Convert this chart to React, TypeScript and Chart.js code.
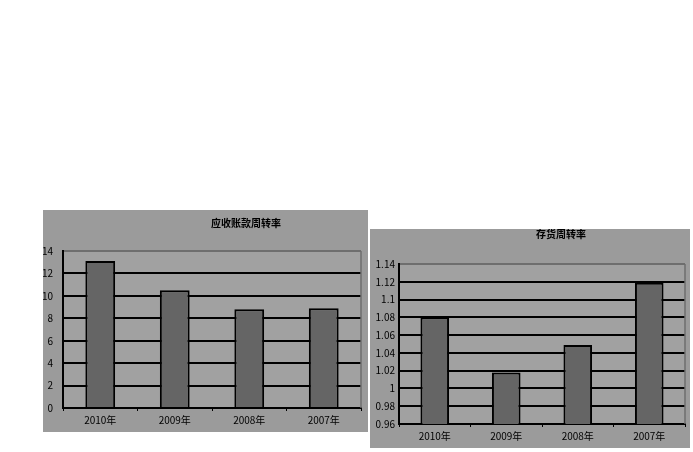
import { useRef, useEffect } from "react";
import { Chart, registerables } from "chart.js";

Chart.register(...registerables);

// 年份（与原图顺序一致，从新到旧）
const years = ["2010年", "2009年", "2008年", "2007年"];

// 应收账款周转率
const receivableTitle = "应收账款周转率";
const receivableValues = [13.1, 10.5, 8.8, 8.9];
const receivableTicks = [0, 2, 4, 6, 8, 10, 12, 14];

// 存货周转率
const inventoryTitle = "存货周转率";
const inventoryValues = [1.08, 1.018, 1.049, 1.119];
const inventoryTicks = [0.96, 0.98, 1, 1.02, 1.04, 1.06, 1.08, 1.1, 1.12, 1.14];

const PANEL_BG = "#9b9b9b";
const PLOT_BG = "#a1a1a1";
const BAR_FILL = "#656565";
const FONT = "'Noto Sans CJK SC', 'DejaVu Sans', sans-serif";

interface PanelProps {
  title: string;
  values: number[];
  ticks: number[];
  left: number;
  top: number;
  width: number;
  height: number;
  pad: { left: number; top: number; right: number; bottom: number };
  tickPad: number;
  titlePos: { x: number; y: number }; // 标题中心相对面板的位置
}

function BarPanel({ title, values, ticks, left, top, width, height, pad, tickPad, titlePos }: PanelProps) {
  const chartRef = useRef<HTMLCanvasElement>(null);

  useEffect(() => {
    if (!chartRef.current) return;
    const min = ticks[0];
    const max = ticks[ticks.length - 1];

    // 绘图区底色 + 右侧灰色边框 + 偏右的标题
    const framePlugin = {
      id: "frame",
      beforeDraw(chart: Chart) {
        const { ctx, chartArea: a } = chart;
        ctx.save();
        ctx.fillStyle = PLOT_BG;
        ctx.fillRect(a.left, a.top, a.right - a.left, a.bottom - a.top);
        ctx.restore();
      },
      afterDraw(chart: Chart) {
        const { ctx, chartArea: a } = chart;
        ctx.save();
        ctx.strokeStyle = "#6e6e6e";
        ctx.lineWidth = 1.5;
        ctx.beginPath();
        ctx.moveTo(a.right, a.top);
        ctx.lineTo(a.right, a.bottom);
        ctx.stroke();
        ctx.fillStyle = "#000";
        ctx.font = `bold 10px ${FONT}`;
        ctx.textAlign = "center";
        ctx.textBaseline = "middle";
        ctx.fillText(title, titlePos.x, titlePos.y);
        ctx.restore();
      },
    };

    const chart = new Chart(chartRef.current, {
      type: "bar",
      data: {
        labels: years,
        datasets: [
          {
            label: title,
            data: values,
            backgroundColor: BAR_FILL,
            borderColor: "#000",
            borderWidth: 2,
            barPercentage: 0.4,
            categoryPercentage: 1,
          },
        ],
      },
      options: {
        animation: false,
        responsive: true,
        maintainAspectRatio: false,
        layout: { padding: { left: 0, top: pad.top, right: pad.right, bottom: 0 } },
        plugins: {
          legend: { display: false },
          title: { display: false },
          tooltip: { enabled: false },
        },
        scales: {
          x: {
            grid: {
              offset: true,
              drawOnChartArea: false,
              drawTicks: true,
              tickLength: 3,
              color: "#000",
              lineWidth: 1,
            },
            border: { color: "#000", width: 2 },
            ticks: { color: "#000", font: { family: FONT, size: 10 }, padding: 3 },
            afterFit: (scale: any) => {
              scale.height = pad.bottom;
            },
          },
          y: {
            min,
            max,
            afterBuildTicks: (scale: any) => {
              scale.ticks = ticks.map((v) => ({ value: v }));
            },
            grid: {
              drawTicks: false,
              color: (ctx: any) => (ctx.tick && ctx.tick.value === max ? "#6e6e6e" : "#000"),
              lineWidth: 2,
            },
            border: { color: "#000", width: 2 },
            ticks: {
              color: "#000",
              font: { family: FONT, size: 10 },
              padding: tickPad,
              callback: (v: any) => String(parseFloat(Number(v).toFixed(2))),
            },
            afterFit: (scale: any) => {
              scale.width = pad.left;
            },
          },
        },
      },
      plugins: [framePlugin],
    });

    return () => chart.destroy();
  }, [title, values, ticks]);

  return (
    <div
      style={{
        position: "absolute",
        left,
        top,
        width,
        height,
        background: PANEL_BG,
      }}
    >
      <canvas ref={chartRef} />
    </div>
  );
}

export default function App() {
  return (
    <div style={{ position: "absolute", left: 0, top: 0, width: 693, height: 452, background: "#fff" }}>
      <BarPanel
        title={receivableTitle}
        values={receivableValues}
        ticks={receivableTicks}
        left={43}
        top={210}
        width={325}
        height={222}
        pad={{ left: 20, top: 41, right: 7, bottom: 24 }}
        tickPad={10}
        titlePos={{ x: 203, y: 13 }}
      />
      <BarPanel
        title={inventoryTitle}
        values={inventoryValues}
        ticks={inventoryTicks}
        left={370}
        top={229}
        width={320}
        height={219}
        pad={{ left: 29, top: 35, right: 5, bottom: 24 }}
        tickPad={4}
        titlePos={{ x: 191, y: 5 }}
      />
    </div>
  );
}
